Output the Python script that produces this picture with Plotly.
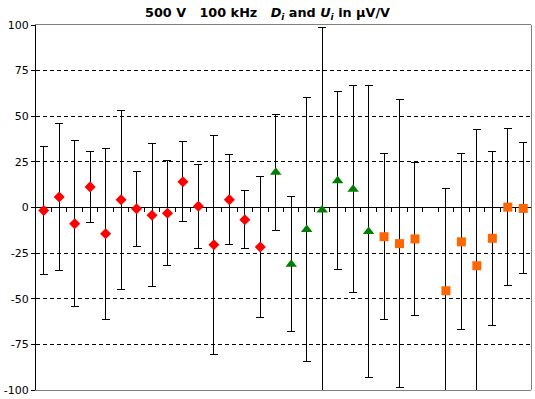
import plotly.graph_objects as go

# ---- data ----
n_categories = 32
red_x = list(range(1, 16))
red_D = [-1.6, 5.8, -8.9, 11.3, -14.4, 4.2, -0.7, -4.2, -3.1, 14.1, 0.7, -20.4, 4.3, -6.7, -21.6]
red_U = [35.2, 40.2, 45.4, 19.6, 47.0, 49.2, 20.5, 39.0, 28.9, 21.9, 22.9, 60.0, 24.8, 15.9, 38.8]

green_x = list(range(16, 23))
green_D = [19.3, -31.1, -12.0, -1.4, 14.6, 10.0, -13.1]
green_U = [31.9, 36.9, 72.4, 100.0, 48.7, 56.6, 80.1]

orange_x = [23, 24, 25, 27, 28, 29, 30, 31, 32]
orange_D = [-16.0, -19.8, -17.2, -45.6, -18.8, -31.9, -16.9, 0.2, -0.5]
orange_U = [45.6, 78.9, 42.0, 55.8, 48.2, 74.9, 47.7, 42.9, 35.9]

y_tickvals = [-100, -75, -50, -25, 0, 25, 50, 75, 100]
y_ticktext = ["-100", "-75", "-50", "-25", "0", "25", "50", "75", "100"]

title_text = ("500 V\u00a0\u00a0\u00a0100 kHz\u00a0\u00a0\u00a0<i>D</i><i><sub>i</sub></i> and "
              "<i>U</i><i><sub>i</sub></i> in µV/V")

fig = go.Figure()

def add_series(xs, ds, us, symbol, color, size):
    fig.add_trace(go.Scatter(
        x=xs, y=ds, mode="markers",
        marker=dict(symbol=symbol, color=color, size=size, line=dict(width=0)),
        error_y=dict(type="data", array=us, symmetric=True, color="black",
                     thickness=1, width=4),
        cliponaxis=False, showlegend=False, hoverinfo="skip",
    ))

add_series(red_x, red_D, red_U, "diamond", "#FF0000", 8.5)
add_series(green_x, green_D, green_U, "triangle-up", "#008000", 10)
add_series(orange_x, orange_D, orange_U, "square", "#FF6600", 9)

shapes = []
# category boundary ticks on the zero line
for k in range(1, n_categories):
    shapes.append(dict(type="line", xref="x", yref="y", x0=k + 0.5, x1=k + 0.5,
                       ysizemode="pixel", yanchor=0, y0=0, y1=-4,
                       line=dict(color="black", width=1)))
# right frame border
shapes.append(dict(type="line", xref="paper", yref="paper", x0=1, x1=1, y0=0, y1=1,
                   line=dict(color="#808080", width=1)))

fig.update_layout(
    width=535, height=399,
    margin=dict(l=36, r=4, t=25, b=9, autoexpand=False),
    paper_bgcolor="white", plot_bgcolor="white",
    font=dict(family="DejaVu Sans", size=11, color="black"),
    title=dict(text=title_text, x=0.5, xanchor="center", yref="container", y=0.968,
               yanchor="middle", automargin=False,
               font=dict(family="DejaVu Sans", size=12.8, color="black", weight="bold")),
    xaxis=dict(range=[0.5, n_categories + 0.5], showticklabels=False, ticks="",
               showgrid=False, zeroline=False, showline=True, mirror=True,
               linecolor="#808080", linewidth=1, fixedrange=True, automargin=False),
    yaxis=dict(range=[-100, 100], tickvals=y_tickvals, ticktext=y_ticktext,
               ticks="outside", ticklen=4, tickcolor="black", tickwidth=1,
               showgrid=True, gridcolor="black", gridwidth=1, griddash="4px,3px",
               zeroline=True, zerolinecolor="black", zerolinewidth=1,
               showline=True, linecolor="black", linewidth=1, mirror=False,
               automargin=False,
               tickfont=dict(family="DejaVu Sans", size=11, color="black")),
    shapes=shapes,
)

post = (
    "document.body.style.margin='0';document.body.style.overflow='hidden';"
    "document.querySelectorAll('.errorbar path, .shapelayer path').forEach(function(p){"
    "p.style.shapeRendering='crispEdges';});"
)
fig.write_html("out.html", config={"displayModeBar": False}, post_script=post)
